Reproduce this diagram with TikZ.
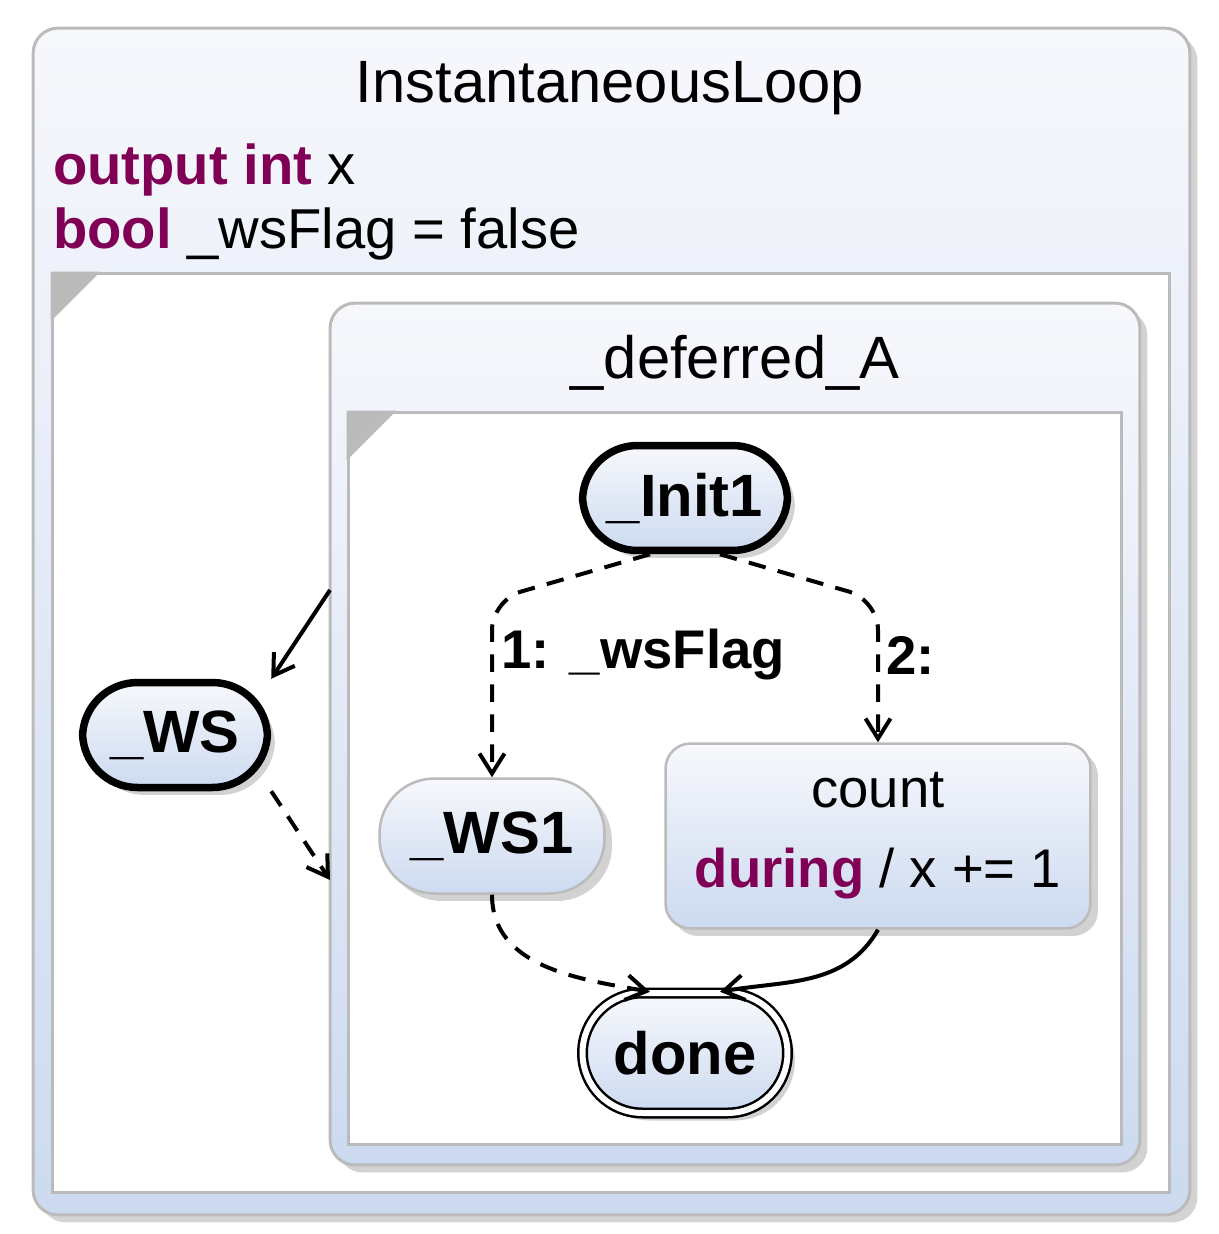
\documentclass[tikz,border=0pt]{standalone}
\usepackage{fontspec}
\setmainfont{Liberation Sans}
\usetikzlibrary{arrows.meta}
\usetikzlibrary{shadows}
\definecolor{colorKW}{HTML}{7F0055}
\definecolor{colorTop}{HTML}{F7F8FC}
\definecolor{colorBot}{HTML}{CCDAF0}
\definecolor{colorEdge}{HTML}{BBBBBB}
\tikzset{
   every path/.style={>={Straight Barb[length=4mm,width=5mm]}},
   txt/.style={font=\fontsize{#1}{#1}\selectfont},
   btxt/.style={font=\fontsize{#1}{#1}\selectfont\bfseries},
   region/.style={draw=colorEdge,line width=0.6mm,fill=white},
   superstate/.style={draw=colorEdge,line width=0.6mm,rounded corners=5mm,
      top color=colorTop,bottom color=colorBot,
      drop shadow={opacity=0.35,shadow xshift=1.5mm,shadow yshift=-1.5mm}},
   state/.style={draw,rounded corners=#1,top color=colorTop,bottom color=colorBot,
      font=\fontsize{34}{40}\selectfont\bfseries,
      drop shadow={opacity=0.35,shadow xshift=1.5mm,shadow yshift=-1.5mm}},
   initial/.style={state=11mm,line width=1.5mm,minimum width=4.1cm,minimum height=2.1cm},
   tr/.style={->,line width=0.8mm},
   dtr/.style={->,line width=0.8mm,dash pattern=on 3.5mm off 2.5mm},
   corner/.style={fill=colorEdge},
}
\newcommand{\kw}[1]{{\color{colorKW}\bfseries #1}}

\begin{document}
\begin{tikzpicture}[x=0.02cm,y=-0.02cm]
  \useasboundingbox (0,0) rectangle (1219,1234);

  % outer state
  \node[superstate,minimum width=23.14cm,minimum height=23.74cm] (loop) at (611.5,621.5) {};
  \node[txt=34] (loopname) at (610,88) {InstantaneousLoop};
  \node[txt=32,anchor=west] (decl1) at (47,170) {\kw{output int} x};
  \node[txt=32,anchor=west] (decl2) at (47,234) {\kw{bool} \_wsFlag = false};
  \node[region,minimum width=22.36cm,minimum height=18.4cm] (reg1) at (611,733) {};
  \fill[corner] (reg1.north west) -- ++(50,0) -- ++(-50,50) -- cycle;

  % _deferred_A
  \node[superstate,minimum width=16.2cm,minimum height=17.24cm] (defA) at (735,734) {};
  \node[txt=34] (defAname) at (735,363) {\_deferred\_A};
  \node[region,minimum width=15.48cm,minimum height=14.66cm] (reg2) at (735,778.5) {};
  \fill[corner] (reg2.north west) -- ++(50,0) -- ++(-50,50) -- cycle;

  % states
  \node[initial] (init1) at (685,498) {\_Init1};
  \node[initial,minimum width=3.7cm] (ws) at (175,735) {\_WS};
  \node[state=11mm,draw=colorEdge,line width=0.5mm,minimum width=4.5cm,minimum height=2.3cm] (ws1) at (492,836) {\_WS1};
  \node[state=5mm,draw=colorEdge,line width=0.5mm,minimum width=8.5cm,minimum height=3.7cm,
        font=\fontsize{31}{40}\selectfont,align=center] (count) at (878,836)
        {count\\[2mm]\kw{during} / x += 1};
  \node[state=12mm,line width=0.5mm,double,double distance=1.2mm,minimum width=4.1cm,minimum height=2.4cm] (done) at (685,1053) {done};

  % transitions
  \coordinate (wsin) at (330,590);
  \coordinate (wsout) at (330,880);
  \draw[tr] (wsin) -- (ws.north east);
  \draw[dtr] (ws.south east) -- (wsout);
  \draw[dtr,rounded corners=6mm] ([xshift=-0.7cm]init1.south) -- (492,600) -- (ws1.north);
  \draw[dtr,rounded corners=6mm] ([xshift=0.7cm]init1.south) -- (878,600) -- (count.north);
  \node[btxt=31,anchor=west] (lbl1) at (495,655) {1: \_wsFlag};
  \node[btxt=31,anchor=west] (lbl2) at (880,655) {2:};
  \draw[dtr] (ws1.south) to[out=-90,in=170] ([xshift=-0.7cm]done.north);
  \draw[tr] (count.south) to[out=-120,in=10] ([xshift=0.7cm]done.north);
\end{tikzpicture}
\end{document}
